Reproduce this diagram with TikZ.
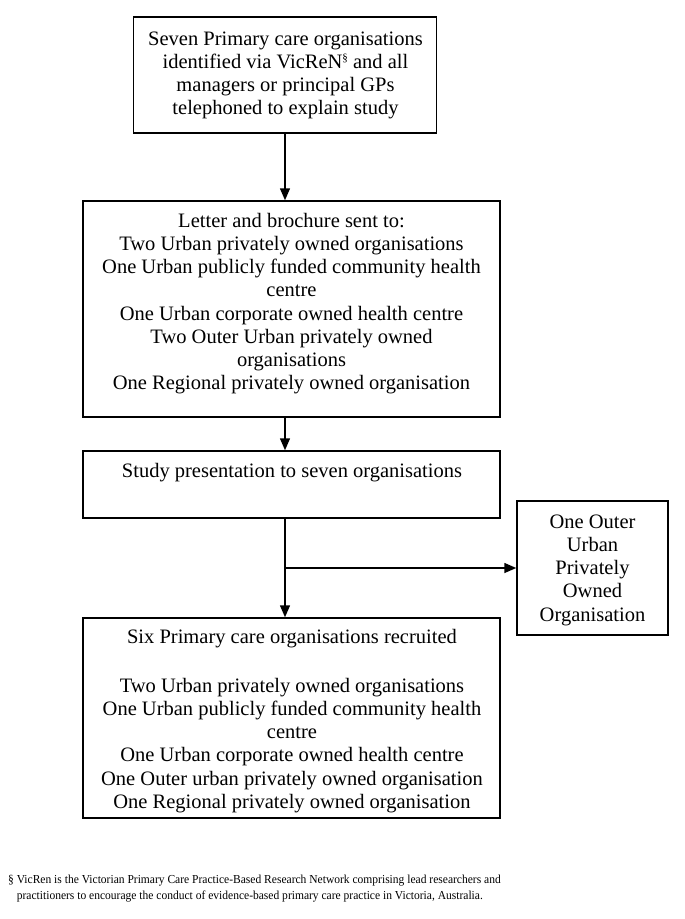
\documentclass[tikz,border=0pt]{standalone}
\usepackage{fontspec}
\setmainfont{Liberation Serif}
\newfontfamily\notefont{Liberation Serif}[FakeStretch=0.945]
\usetikzlibrary{arrows.meta}
\newcommand\tallstrut{\rule{0pt}{16pt}}
\newcommand\secmark{\raisebox{7pt}{\fontsize{11}{11}\selectfont\S}}
\begin{document}
\begin{tikzpicture}[x=1pt,y=-1pt,
  box/.style={draw, line width=1.5pt, inner sep=0pt},
  txt/.style={anchor=north, inner sep=0pt, align=center, font=\fontsize{20.5}{23.2}\selectfont},
  arr/.style={line width=1.5pt, -{Triangle[length=12pt,width=10pt]}},
  ]
\useasboundingbox[fill=white] (0,0) rectangle (685,919);

% boxes
\node[box, minimum width=303pt, minimum height=116pt] (b1) at (285,75) {};
\node[box, minimum width=417pt, minimum height=216pt] (b2) at (291.5,309) {};
\node[box, minimum width=417pt, minimum height=67pt] (b3) at (291.5,484.5) {};
\node[box, minimum width=417pt, minimum height=200pt] (b4) at (291.5,718) {};
\node[box, minimum width=151pt, minimum height=134pt] (side) at (592.5,568) {};

% texts
\node[txt] (t1) at (285.5,29) {\tallstrut Seven Primary care organisations\\
 identified via VicReN\secmark{} and all\\
 managers or principal GPs\\
 telephoned to explain study};
\node[txt] (t2) at (291.5,211) {\tallstrut Letter and brochure sent to:\\
 Two Urban privately owned organisations\\
 One Urban publicly funded community health\\
 centre\\
 One Urban corporate owned health centre\\
 Two Outer Urban privately owned\\
 organisations\\
 One Regional privately owned organisation};
\node[txt] (t3) at (292,461) {\tallstrut Study presentation to seven organisations};
\node[txt] (t4) at (292,627) {\tallstrut Six Primary care organisations recruited\\[2.6pt]
 \mbox{}\\
 Two Urban privately owned organisations\\
 One Urban publicly funded community health\\
 centre\\
 One Urban corporate owned health centre\\
 One Outer urban privately owned organisation\\
 One Regional privately owned organisation};
\node[txt] (t5) at (592.5,512) {\tallstrut One Outer\\ Urban\\ Privately\\ Owned\\ Organisation};

% connectors
\coordinate (j) at (284,568);
\draw[arr] (b1.south) -- (b1.south |- b2.north);
\draw[arr] (b1.south |- b2.south) -- (b1.south |- b3.north);
\draw[arr] (b1.south |- b3.south) -- (b1.south |- b4.north);
\draw[arr] (j) -- (j -| side.west);

% footnote
\node[anchor=north west, inner sep=0pt, align=left,
  font=\notefont\fontsize{12.2}{16}\selectfont] (note) at (8,871)
  {\rule{0pt}{12pt}\S\ VicRen is the Victorian Primary Care Practice-Based Research Network comprising lead researchers and\\
   \hphantom{\S\ }practitioners to encourage the conduct of evidence-based primary care practice in Victoria, Australia.};
\end{tikzpicture}
\end{document}
